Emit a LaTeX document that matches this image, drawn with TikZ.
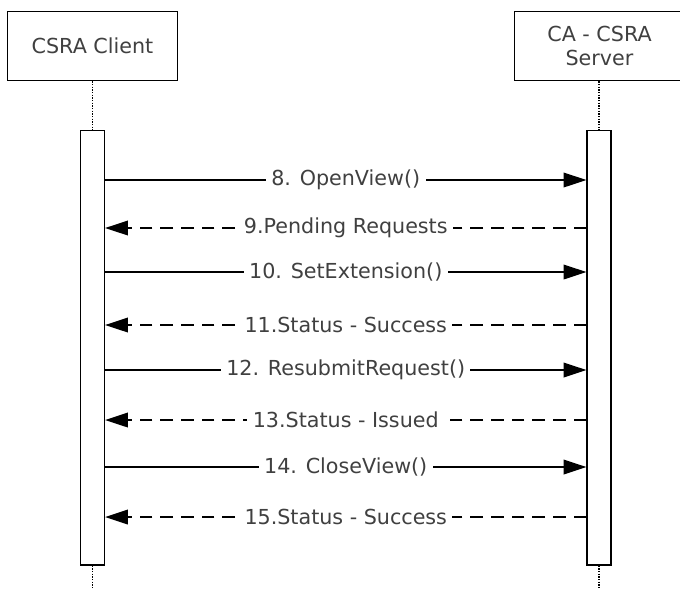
\documentclass[tikz,border=0pt]{standalone}
\usepackage{fontspec}
\setmainfont{DejaVu Sans}
\usetikzlibrary{arrows.meta}
\begin{document}
\begin{tikzpicture}[x=0.75pt,y=-0.75pt,
  actor/.style={draw,line width=1pt,fill=white,minimum width=127.5pt,minimum height=52pt,align=center,font=\fontsize{15.5}{18}\selectfont,text=black!75},
  bar/.style={draw,line width=1pt,fill=white,minimum width=18pt,inner sep=0pt},
  life/.style={dash pattern=on 1pt off 1pt,line width=1pt},
  msg/.style={line width=1pt,-{Triangle[length=17pt,width=11pt]}},
  rep/.style={msg,dash pattern=on 9.5pt off 6pt},
  lbl/.style={fill=white,inner xsep=4pt,inner ysep=2pt,font=\fontsize{15.5}{18}\selectfont,text=black!75}]
\useasboundingbox (0,0) rectangle (680,589);
\begin{scope}
\clip (0,0) rectangle (680,589);
\node[actor] (client) at (92.5,46) {CSRA Client};
\node[actor] (server) at (599.5,46) {CA - CSRA\\Server};
\node[bar,minimum height=326pt] (cb) at (92.5,347.5) {};
\node[bar,minimum height=326pt] (sb) at (599,347.5) {};
\coordinate (ce) at (92.5,589);
\coordinate (se) at (599,589);
\draw[life] (client.south) -- (cb.north);
\draw[life] (server.south -| sb.north) -- (sb.north);
\draw[life] (cb.south) -- (ce);
\draw[life] (sb.south) -- (se);
\foreach \y/\t in {180/{8. OpenView()},272/{10. SetExtension()},370/{12. ResubmitRequest()},467/{14. CloseView()}}{
  \draw[msg] (cb.east |- 0,\y) -- node[lbl]{\t} (sb.west |- 0,\y);
}
\foreach \y/\t in {228/{9.Pending Requests},325/{11.Status - Success},420/{13.Status - Issued},517/{15.Status - Success}}{
  \draw[rep] (sb.west |- 0,\y) -- node[lbl]{\t} (cb.east |- 0,\y);
}
\end{scope}
\end{tikzpicture}
\end{document}
